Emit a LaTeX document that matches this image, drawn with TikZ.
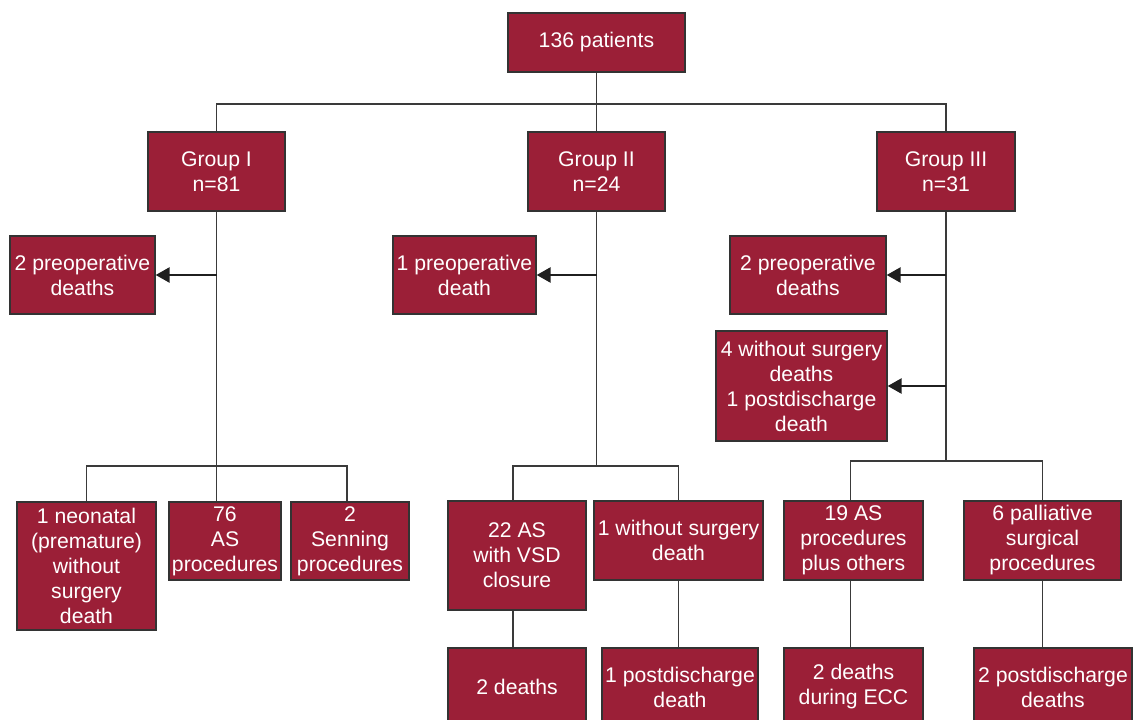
\documentclass[tikz,border=0pt]{standalone}
\usepackage{fontspec}
\setmainfont{Liberation Sans}
\usetikzlibrary{arrows.meta}
\definecolor{boxred}{HTML}{9B1F37}
\definecolor{boxedge}{HTML}{333333}
\definecolor{linegray}{HTML}{3A3A3A}
\tikzset{
  box/.style={draw=boxedge, line width=1.3pt, fill=boxred, text=white, align=center,
    inner sep=0pt, font=\fontsize{21.2}{25}\selectfont},
  conn/.style={draw=linegray, line width=1.2pt},
  arr/.style={draw=black!88, line width=2.6pt, -{Triangle[length=14pt,width=15pt]}}
}
\begin{document}
\begin{tikzpicture}[x=1pt,y=-1pt]
\useasboundingbox (0,0) rectangle (1133,720);
% nodes
\node[box, minimum width=177, minimum height=59] (top) at (596.5,42.5) {136 patients};
\node[box, minimum width=137, minimum height=79] (g1) at (216.5,171.5) {Group I\\n=81};
\node[box, minimum width=137, minimum height=79] (g2) at (596.5,171.5) {Group II\\n=24};
\node[box, minimum width=138, minimum height=79] (g3) at (946,171.5) {Group III\\n=31};
\node[box, minimum width=145, minimum height=78] (p1) at (82.5,275) {2 preoperative\\deaths};
\node[box, minimum width=143, minimum height=78] (p2) at (464.5,275) {1 preoperative\\death};
\node[box, minimum width=156, minimum height=78] (p3) at (808,275) {2 preoperative\\deaths};
\node[box, minimum width=171, minimum height=110] (w3) at (801.5,386) {4 without surgery\\deaths\\1 postdischarge\\death};
\node[box, minimum width=139, minimum height=128] (a1) at (86.5,566) {1 neonatal\\(premature)\\without\\surgery\\death};
\node[box, minimum width=112, minimum height=78] (a2) at (225,541) {76\\AS\\procedures};
\node[box, minimum width=118, minimum height=78] (a3) at (350,541) {2\\Senning\\procedures};
\node[box, minimum width=138, minimum height=109] (b1) at (517,555.5) {22 AS\\with VSD\\closure};
\node[box, minimum width=169, minimum height=79] (b2) at (678.5,540.5) {1 without surgery\\death};
\node[box, minimum width=138, minimum height=78] (b3) at (517,687) {2 deaths};
\node[box, minimum width=156, minimum height=78] (b4) at (680,687) {1 postdischarge\\death};
\node[box, minimum width=139, minimum height=79] (c1) at (853.5,540.5) {19 AS\\procedures\\plus others};
\node[box, minimum width=157, minimum height=79] (c2) at (1042.5,540.5) {6 palliative\\surgical\\procedures};
\node[box, minimum width=139, minimum height=78] (c3) at (853.5,687) {2 deaths\\during ECC};
\node[box, minimum width=158, minimum height=78] (c4) at (1053,687) {2 postdischarge\\deaths};
% junctions
\coordinate (j0) at (596.5,104);
\coordinate (j1) at (216.5,466);
\coordinate (j2) at (596.5,466);
\coordinate (j3) at (946,461);
\coordinate (ka3) at ([xshift=-3pt]a3.north);
\coordinate (kb1) at ([xshift=-4pt]b1.north);
\coordinate (kb1s) at ([xshift=-4pt]b1.south);
\coordinate (kc1) at ([xshift=-3pt]c1.north);
\coordinate (kc1s) at ([xshift=-3pt]c1.south);
% top level
\draw[conn] (top.south) -- (j0);
\draw[conn] (g1.north) -- (g1.north |- j0) -- (g3.north |- j0) -- (g3.north);
\draw[conn] (j0) -- (g2.north);
% group I
\draw[conn] (g1.south) -- (j1);
\draw[arr] (g1.south |- p1.east) -- (p1.east);
\draw[conn] (a1.north) |- (j1) -| (ka3);
\draw[conn] (j1) -- (j1 |- a2.north);
% group II
\draw[conn] (g2.south) -- (j2);
\draw[arr] (g2.south |- p2.east) -- (p2.east);
\draw[conn] (kb1) |- (j2) -| (b2.north);
\draw[conn] (kb1s) -- (kb1s |- b3.north);
\draw[conn] (b2.south) -- (b2.south |- b4.north);
% group III
\draw[conn] (g3.south) -- (j3);
\draw[arr] (g3.south |- p3.east) -- (p3.east);
\draw[arr] (g3.south |- w3.east) -- (w3.east);
\draw[conn] (kc1) |- (j3) -| (c2.north);
\draw[conn] (kc1s) -- (kc1s |- c3.north);
\draw[conn] (c2.south) -- (c2.south |- c4.north);
\end{tikzpicture}
\end{document}
